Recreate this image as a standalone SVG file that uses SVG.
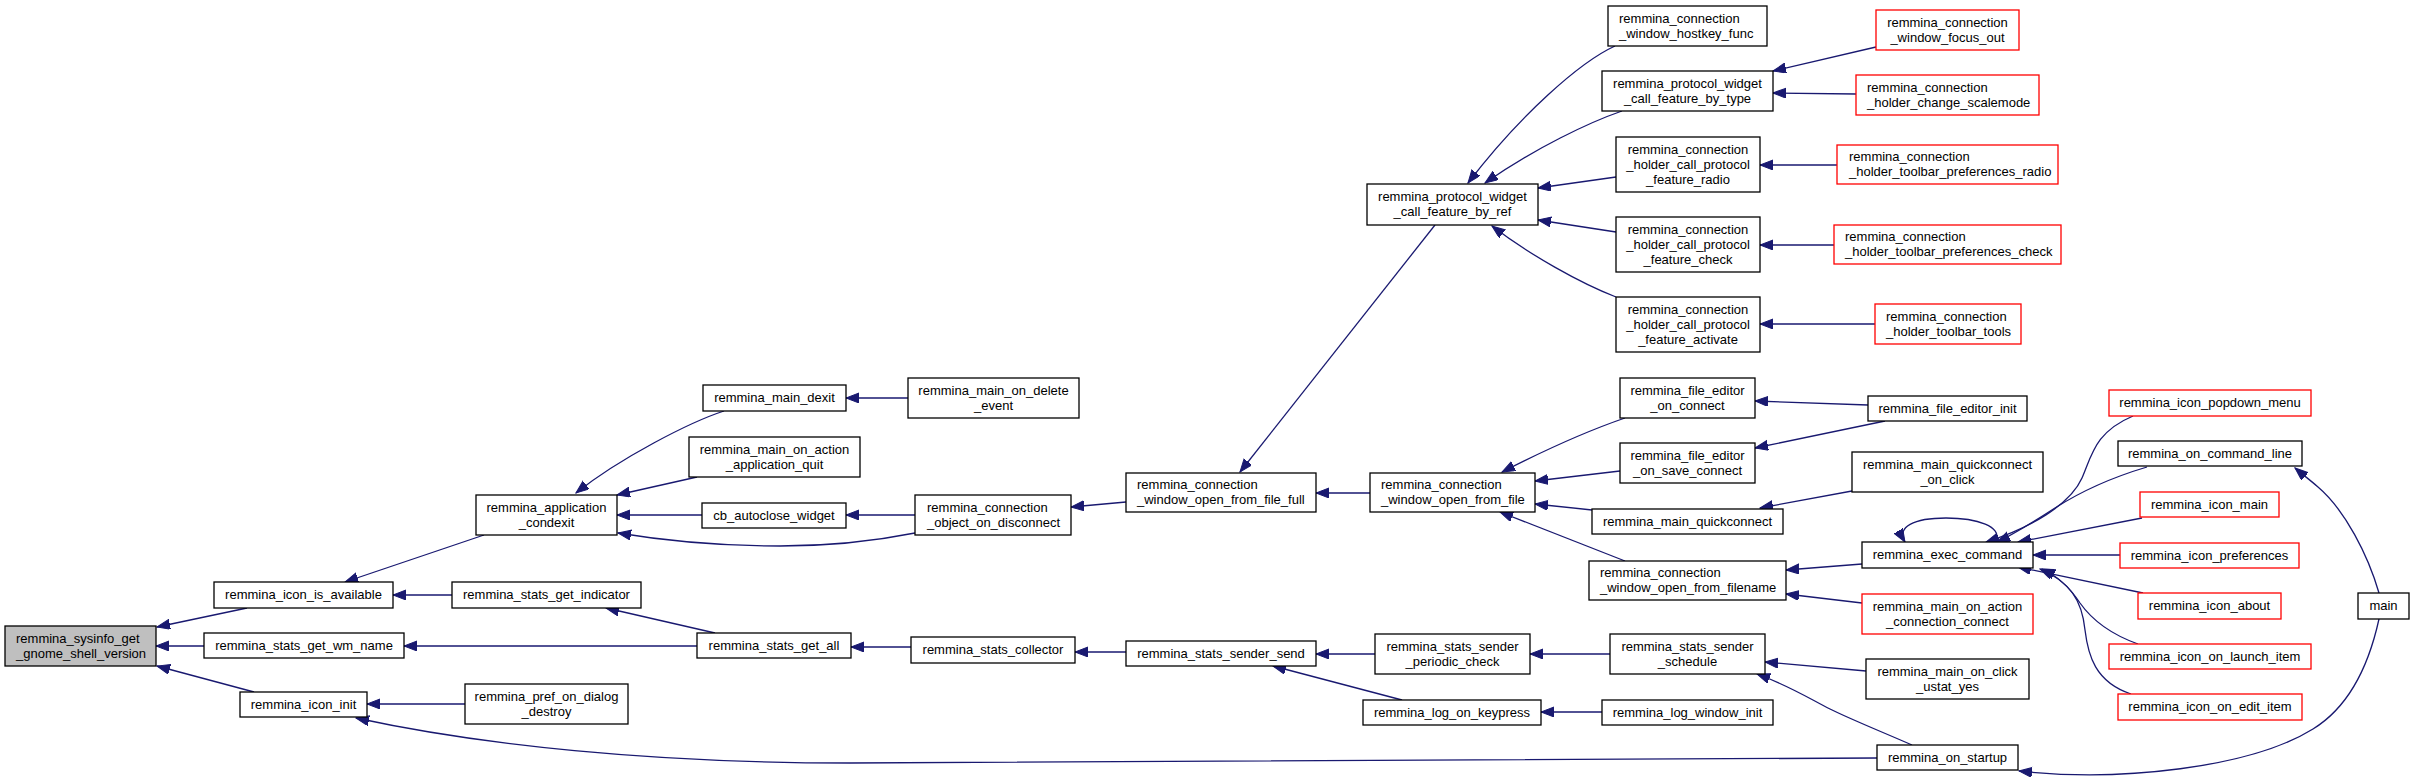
<svg xmlns="http://www.w3.org/2000/svg" width="2415" height="784" viewBox="0 0 2415 784">
<style>
.nb{fill:#ffffff;stroke:#000000;stroke-width:1.3}
.nr{fill:#ffffff;stroke:#ff0000;stroke-width:1.3}
.ng{fill:#bfbfbf;stroke:#000000;stroke-width:1.3}
text{font-family:"Liberation Sans",Arial,Helvetica,sans-serif;font-size:13px;fill:#000000}
.c{text-anchor:middle}
.l{text-anchor:start}
.e{fill:none;stroke:#191970;stroke-width:1.3;marker-end:url(#ah)}
</style>
<defs>
<marker id="ah" markerUnits="userSpaceOnUse" markerWidth="14" markerHeight="11" refX="13" refY="5" orient="auto">
<path d="M0,0 L13,5 L0,10 z" fill="#191970" stroke="#191970" stroke-width="1"/>
</marker>
</defs>
<rect x="0" y="0" width="2415" height="784" fill="#ffffff"/>
<g id="edges">
<path class="e" d="M247,608 L157,627"/>
<path class="e" d="M204,646 L156,646"/>
<path class="e" d="M254,692 L157,666"/>
<path class="e" d="M484,535 L345,582"/>
<path class="e" d="M452,595 L393,595"/>
<path class="e" d="M697,646 L404,646"/>
<path class="e" d="M465,704 L367,704"/>
<path class="e" d="M1877,758 C1700,760 1300,763 850,763 C650,763 480,745 356,718"/>
<path class="e" d="M715,633 L606,608"/>
<path class="e" d="M724,411 C690,422 620,458 576,493"/>
<path class="e" d="M697,477 L617,495"/>
<path class="e" d="M702,515 L617,515"/>
<path class="e" d="M915,533 C880,540 830,546 780,546 C720,546 660,540 618,533"/>
<path class="e" d="M908,398 L846,398"/>
<path class="e" d="M915,515 L846,515"/>
<path class="e" d="M1126,502 L1071,507"/>
<path class="e" d="M1370,493 L1316,493"/>
<path class="e" d="M1435,225 L1240,472"/>
<path class="e" d="M1615,46 C1580,62 1520,115 1468,183"/>
<path class="e" d="M1622,111 C1590,122 1535,148 1485,183"/>
<path class="e" d="M1616,177 L1538,188"/>
<path class="e" d="M1616,232 L1538,220"/>
<path class="e" d="M1616,297 C1580,283 1530,255 1492,226"/>
<path class="e" d="M1876,47 L1773,71"/>
<path class="e" d="M1856,94 L1773,93"/>
<path class="e" d="M1837,165 L1760,165"/>
<path class="e" d="M1834,245 L1760,245"/>
<path class="e" d="M1875,324 L1760,324"/>
<path class="e" d="M1625,418 C1590,430 1545,450 1502,472"/>
<path class="e" d="M1620,471 L1535,481"/>
<path class="e" d="M1592,510 L1535,504"/>
<path class="e" d="M1625,561 L1500,512"/>
<path class="e" d="M1868,405 L1755,401"/>
<path class="e" d="M1885,421 L1755,448"/>
<path class="e" d="M1852,491 L1760,508"/>
<path class="e" d="M1862,564 L1786,570"/>
<path class="e" d="M1862,603 L1786,594"/>
<path class="e" d="M1996,540 C2002,527 1978,518 1946,518 C1914,518 1896,527 1905,542"/>
<path class="e" d="M2133,416 C2095,432 2092,455 2082,478 C2070,505 2030,528 1986,542"/>
<path class="e" d="M2147,467 C2110,478 2080,492 2055,508 C2035,521 2015,534 1997,542"/>
<path class="e" d="M2142,518 L2018,542"/>
<path class="e" d="M2120,555 L2033,555"/>
<path class="e" d="M2143,593 L2018,567"/>
<path class="e" d="M2138,644 C2110,634 2092,620 2080,603 C2070,588 2058,576 2042,569"/>
<path class="e" d="M2131,694 C2095,682 2088,655 2085,630 C2082,600 2070,582 2040,569"/>
<path class="e" d="M2379,593 C2368,555 2345,510 2318,487 C2310,480 2302,474 2295,468"/>
<path class="e" d="M2379,619 C2370,660 2352,705 2313,729 C2250,768 2120,782 2019,771"/>
<path class="e" d="M911,647 L851,647"/>
<path class="e" d="M1126,652 L1075,652"/>
<path class="e" d="M1375,654 L1316,654"/>
<path class="e" d="M1402,700 L1273,666"/>
<path class="e" d="M1610,654 L1530,654"/>
<path class="e" d="M1602,712 L1541,712"/>
<path class="e" d="M1866,671 L1765,662"/>
<path class="e" d="M1912,745 C1880,731 1850,719 1830,709 C1810,699 1790,686 1757,674"/>
</g>
<g id="n0"><rect class="ng" x="5" y="626" width="151" height="40"/><text class="l" x="16" y="642.5">remmina_sysinfo_get</text><text class="l" x="16" y="657.5">_gnome_shell_version</text></g>
<g id="n1"><rect class="nb" x="214" y="582" width="179" height="26"/><text class="c" x="303.5" y="599">remmina_icon_is_available</text></g>
<g id="n2"><rect class="nb" x="204" y="633" width="200" height="25"/><text class="c" x="304" y="649.5">remmina_stats_get_wm_name</text></g>
<g id="n3"><rect class="nb" x="240" y="692" width="127" height="25"/><text class="c" x="303.5" y="708.5">remmina_icon_init</text></g>
<g id="n4"><rect class="nb" x="476" y="495" width="141" height="40"/><text class="c" x="546.5" y="511.5">remmina_application</text><text class="c" x="546.5" y="526.5">_condexit</text></g>
<g id="n5"><rect class="nb" x="452" y="582" width="189" height="26"/><text class="c" x="546.5" y="599">remmina_stats_get_indicator</text></g>
<g id="n6"><rect class="nb" x="697" y="633" width="154" height="25"/><text class="c" x="774" y="649.5">remmina_stats_get_all</text></g>
<g id="n7"><rect class="nb" x="465" y="684" width="163" height="40"/><text class="c" x="546.5" y="700.5">remmina_pref_on_dialog</text><text class="c" x="546.5" y="715.5">_destroy</text></g>
<g id="n8"><rect class="nb" x="703" y="385" width="143" height="26"/><text class="c" x="774.5" y="402">remmina_main_dexit</text></g>
<g id="n9"><rect class="nb" x="689" y="437" width="171" height="40"/><text class="c" x="774.5" y="453.5">remmina_main_on_action</text><text class="c" x="774.5" y="468.5">_application_quit</text></g>
<g id="n10"><rect class="nb" x="702" y="503" width="144" height="25"/><text class="c" x="774" y="519.5">cb_autoclose_widget</text></g>
<g id="n11"><rect class="nb" x="908" y="378" width="171" height="40"/><text class="c" x="993.5" y="394.5">remmina_main_on_delete</text><text class="c" x="993.5" y="409.5">_event</text></g>
<g id="n12"><rect class="nb" x="915" y="495" width="156" height="40"/><text class="l" x="927" y="511.5">remmina_connection</text><text class="l" x="927" y="526.5">_object_on_disconnect</text></g>
<g id="n13"><rect class="nb" x="911" y="637" width="164" height="26"/><text class="c" x="993" y="654">remmina_stats_collector</text></g>
<g id="n14"><rect class="nb" x="1126" y="473" width="190" height="39"/><text class="l" x="1137" y="489">remmina_connection</text><text class="l" x="1137" y="504">_window_open_from_file_full</text></g>
<g id="n15"><rect class="nb" x="1126" y="641" width="190" height="25"/><text class="c" x="1221" y="657.5">remmina_stats_sender_send</text></g>
<g id="n16"><rect class="nb" x="1367" y="184" width="171" height="41"/><text class="c" x="1452.5" y="200.5">remmina_protocol_widget</text><text class="c" x="1452.5" y="215.5">_call_feature_by_ref</text></g>
<g id="n17"><rect class="nb" x="1370" y="473" width="165" height="39"/><text class="l" x="1381" y="489">remmina_connection</text><text class="l" x="1381" y="504">_window_open_from_file</text></g>
<g id="n18"><rect class="nb" x="1375" y="634" width="155" height="40"/><text class="c" x="1452.5" y="650.5">remmina_stats_sender</text><text class="c" x="1452.5" y="665.5">_periodic_check</text></g>
<g id="n19"><rect class="nb" x="1363" y="700" width="178" height="25"/><text class="c" x="1452" y="716.5">remmina_log_on_keypress</text></g>
<g id="n20"><rect class="nb" x="1608" y="6" width="159" height="40"/><text class="l" x="1619" y="22.5">remmina_connection</text><text class="l" x="1619" y="37.5">_window_hostkey_func</text></g>
<g id="n21"><rect class="nb" x="1602" y="71" width="171" height="40"/><text class="c" x="1687.5" y="87.5">remmina_protocol_widget</text><text class="c" x="1687.5" y="102.5">_call_feature_by_type</text></g>
<g id="n22"><rect class="nb" x="1616" y="137" width="144" height="55"/><text class="c" x="1688" y="153.5">remmina_connection</text><text class="c" x="1688" y="168.5">_holder_call_protocol</text><text class="c" x="1688" y="183.5">_feature_radio</text></g>
<g id="n23"><rect class="nb" x="1616" y="217" width="144" height="55"/><text class="c" x="1688" y="233.5">remmina_connection</text><text class="c" x="1688" y="248.5">_holder_call_protocol</text><text class="c" x="1688" y="263.5">_feature_check</text></g>
<g id="n24"><rect class="nb" x="1616" y="297" width="144" height="55"/><text class="c" x="1688" y="313.5">remmina_connection</text><text class="c" x="1688" y="328.5">_holder_call_protocol</text><text class="c" x="1688" y="343.5">_feature_activate</text></g>
<g id="n25"><rect class="nb" x="1620" y="378" width="135" height="40"/><text class="c" x="1687.5" y="394.5">remmina_file_editor</text><text class="c" x="1687.5" y="409.5">_on_connect</text></g>
<g id="n26"><rect class="nb" x="1620" y="443" width="135" height="40"/><text class="c" x="1687.5" y="459.5">remmina_file_editor</text><text class="c" x="1687.5" y="474.5">_on_save_connect</text></g>
<g id="n27"><rect class="nb" x="1592" y="509" width="191" height="25"/><text class="c" x="1687.5" y="525.5">remmina_main_quickconnect</text></g>
<g id="n28"><rect class="nb" x="1589" y="561" width="197" height="39"/><text class="l" x="1600" y="577">remmina_connection</text><text class="l" x="1600" y="592">_window_open_from_filename</text></g>
<g id="n29"><rect class="nb" x="1610" y="634" width="155" height="40"/><text class="c" x="1687.5" y="650.5">remmina_stats_sender</text><text class="c" x="1687.5" y="665.5">_schedule</text></g>
<g id="n30"><rect class="nb" x="1602" y="700" width="171" height="25"/><text class="c" x="1687.5" y="716.5">remmina_log_window_init</text></g>
<g id="n31"><rect class="nr" x="1876" y="10" width="143" height="40"/><text class="c" x="1947.5" y="26.5">remmina_connection</text><text class="c" x="1947.5" y="41.5">_window_focus_out</text></g>
<g id="n32"><rect class="nr" x="1856" y="75" width="183" height="40"/><text class="l" x="1867" y="91.5">remmina_connection</text><text class="l" x="1867" y="106.5">_holder_change_scalemode</text></g>
<g id="n33"><rect class="nr" x="1837" y="145" width="221" height="39"/><text class="l" x="1849" y="161">remmina_connection</text><text class="l" x="1849" y="176">_holder_toolbar_preferences_radio</text></g>
<g id="n34"><rect class="nr" x="1834" y="225" width="227" height="39"/><text class="l" x="1845" y="241">remmina_connection</text><text class="l" x="1845" y="256">_holder_toolbar_preferences_check</text></g>
<g id="n35"><rect class="nr" x="1875" y="304" width="146" height="40"/><text class="l" x="1886" y="320.5">remmina_connection</text><text class="l" x="1886" y="335.5">_holder_toolbar_tools</text></g>
<g id="n36"><rect class="nb" x="1868" y="396" width="159" height="25"/><text class="c" x="1947.5" y="412.5">remmina_file_editor_init</text></g>
<g id="n37"><rect class="nb" x="1852" y="452" width="191" height="40"/><text class="c" x="1947.5" y="468.5">remmina_main_quickconnect</text><text class="c" x="1947.5" y="483.5">_on_click</text></g>
<g id="n38"><rect class="nb" x="1862" y="542" width="171" height="26"/><text class="c" x="1947.5" y="559">remmina_exec_command</text></g>
<g id="n39"><rect class="nr" x="1862" y="594" width="171" height="40"/><text class="c" x="1947.5" y="610.5">remmina_main_on_action</text><text class="c" x="1947.5" y="625.5">_connection_connect</text></g>
<g id="n40"><rect class="nb" x="1866" y="659" width="163" height="40"/><text class="c" x="1947.5" y="675.5">remmina_main_on_click</text><text class="c" x="1947.5" y="690.5">_ustat_yes</text></g>
<g id="n41"><rect class="nb" x="1877" y="745" width="141" height="25"/><text class="c" x="1947.5" y="761.5">remmina_on_startup</text></g>
<g id="n42"><rect class="nr" x="2109" y="390" width="202" height="26"/><text class="c" x="2210" y="407">remmina_icon_popdown_menu</text></g>
<g id="n43"><rect class="nb" x="2118" y="441" width="184" height="25"/><text class="c" x="2210" y="457.5">remmina_on_command_line</text></g>
<g id="n44"><rect class="nr" x="2140" y="492" width="139" height="25"/><text class="c" x="2209.5" y="508.5">remmina_icon_main</text></g>
<g id="n45"><rect class="nr" x="2120" y="543" width="179" height="25"/><text class="c" x="2209.5" y="559.5">remmina_icon_preferences</text></g>
<g id="n46"><rect class="nr" x="2138" y="593" width="143" height="26"/><text class="c" x="2209.5" y="610">remmina_icon_about</text></g>
<g id="n47"><rect class="nr" x="2109" y="644" width="202" height="25"/><text class="c" x="2210" y="660.5">remmina_icon_on_launch_item</text></g>
<g id="n48"><rect class="nr" x="2118" y="694" width="184" height="26"/><text class="c" x="2210" y="711">remmina_icon_on_edit_item</text></g>
<g id="n49"><rect class="nb" x="2358" y="593" width="51" height="26"/><text class="c" x="2383.5" y="610">main</text></g>
</svg>
